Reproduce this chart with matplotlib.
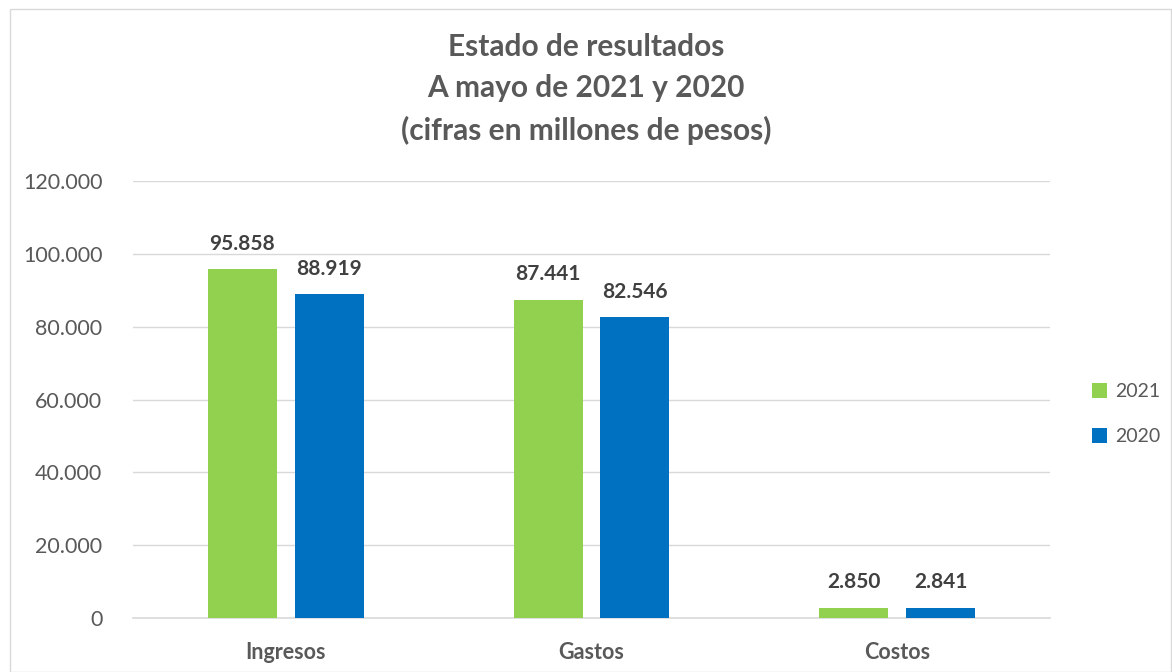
import matplotlib.pyplot as plt
import numpy as np
from matplotlib.patches import Rectangle
from matplotlib.ticker import FuncFormatter

categories = ["Ingresos", "Gastos", "Costos"]
series_names = ["2021", "2020"]
values_2021 = [95858, 87441, 2850]
values_2020 = [88919, 82546, 2841]
yticks = [0, 20000, 40000, 60000, 80000, 100000, 120000]

colors = ["#92D050", "#0070C0"]
FONT = "Lato"
plt.rcParams['font.family'] = [FONT, 'DejaVu Sans']

fig = plt.figure(figsize=(11.72, 6.72), dpi=100)
ax = fig.add_axes([133/1172, 1-618/672, (1050-133)/1172, (618-181)/672])

x = np.arange(len(categories))
w = 0.226
off = 0.142
def fmt(v):
    return f"{v:,.0f}".replace(",", ".")

for i, (vals, name) in enumerate(zip([values_2021, values_2020], series_names)):
    pos = x + (-off if i == 0 else off)
    bars = ax.bar(pos, vals, width=w, color=colors[i], label=name, zorder=3)
    for b, v in zip(bars, vals):
        ax.text(b.get_x() + b.get_width()/2, v + 4200, fmt(v), ha='center', va='bottom',
                fontsize=15, fontweight='bold', color='#404040')

ax.set_xlim(-0.5, 2.5)
ax.set_ylim(0, 120000)
ax.set_yticks(yticks)
ax.yaxis.set_major_formatter(FuncFormatter(lambda v, p: fmt(v)))
ax.grid(axis='y', color='#D9D9D9', linewidth=1, zorder=0)
for s in ['top', 'right', 'left']:
    ax.spines[s].set_visible(False)
ax.spines['bottom'].set_color('#D9D9D9')
ax.spines['bottom'].set_linewidth(1.2)
ax.tick_params(axis='both', length=0, labelsize=15.5, colors='#595959')
ax.tick_params(axis='y', pad=22)
ax.tick_params(axis='x', pad=17)
ax.set_xticks(x)
ax.set_xticklabels(categories, fontweight='bold', fontsize=15.5)

fig.text(0.5, 1-33/672, "Estado de resultados\nA mayo de 2021 y 2020\n(cifras en millones de pesos)",
         ha='center', va='top', fontsize=21.5, fontweight='bold', color='#595959',
         linespacing=1.58, transform=fig.transFigure)

leg = ax.legend(loc='center left', bbox_to_anchor=(1074/1172, 1-414/672), bbox_transform=fig.transFigure,
                frameon=False, fontsize=14, handlelength=0.8, handleheight=0.8,
                handletextpad=0.4, labelspacing=1.45, labelcolor='#595959')

fig.patches.append(Rectangle((10/1172, 0), 1-10/1172-0.001, 1-9/672, transform=fig.transFigure,
                             fill=False, edgecolor='#D9D9D9', linewidth=1))

fig.savefig("out.png", dpi=100)
